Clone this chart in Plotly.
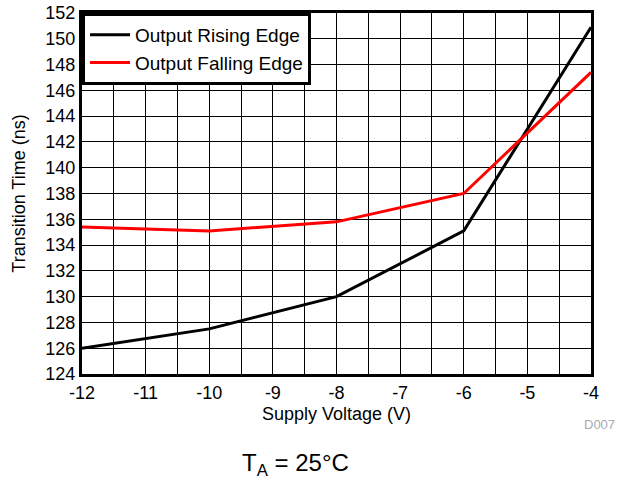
import plotly.graph_objects as go

voltage = [-12, -10, -8, -6, -4]
rising = [126.0, 127.5, 130.0, 135.1, 150.9]
falling = [135.4, 135.1, 135.8, 138.0, 147.4]

x_ticks = [-12, -11, -10, -9, -8, -7, -6, -5, -4]
y_ticks = list(range(124, 153, 2))

FONT = "Liberation Sans, Arial, sans-serif"

fig = go.Figure()
fig.add_trace(go.Scatter(x=voltage, y=rising, mode="lines", name="Output Rising Edge",
                         line=dict(color="black", width=3)))
fig.add_trace(go.Scatter(x=voltage, y=falling, mode="lines", name="Output Falling Edge",
                         line=dict(color="#ff0000", width=3)))

fig.update_layout(
    width=620, height=481,
    margin=dict(l=82, r=29, t=13, b=107, autoexpand=False),
    paper_bgcolor="white", plot_bgcolor="white",
    font=dict(family=FONT, size=18, color="black"),
    showlegend=True,
    legend=dict(x=0, y=1, xanchor="left", yanchor="top",
                bgcolor="white", bordercolor="black", borderwidth=3,
                font=dict(size=19), tracegroupgap=0, itemwidth=40),
    xaxis=dict(range=[-12, -4], tickvals=x_ticks, ticktext=[str(v) for v in x_ticks],
               showgrid=True, gridcolor="black", gridwidth=1,
               minor=dict(dtick=0.5, tick0=-12, showgrid=True, gridcolor="black", gridwidth=1),
               showline=True, linecolor="black", linewidth=3, mirror=True,
               ticks="", zeroline=False, automargin=False,
               title=dict(text="Supply Voltage (V)", standoff=6, font=dict(size=18))),
    yaxis=dict(range=[124, 152], tickvals=y_ticks, ticktext=[str(v) for v in y_ticks],
               showgrid=True, gridcolor="black", gridwidth=1,
               showline=True, linecolor="black", linewidth=3, mirror=True,
               ticks="", zeroline=False, automargin=False,
               title=dict(text="Transition Time (ns)", standoff=16, font=dict(size=18))),
)

fig.add_annotation(text="D007", xref="paper", yref="paper", x=1.051, y=-0.141,
                   xanchor="right", yanchor="middle", showarrow=False,
                   font=dict(size=13, color="#aaaaaa"))
fig.add_annotation(text="T<sub>A</sub> = 25°C", xref="paper", yref="paper",
                   x=0.42, y=-0.25, xanchor="center", yanchor="middle", showarrow=False,
                   font=dict(size=24, color="black"))

fig.write_html("out.html", config={"displayModeBar": False},
               post_script="document.body.style.margin='0';document.body.style.overflow='hidden';")
